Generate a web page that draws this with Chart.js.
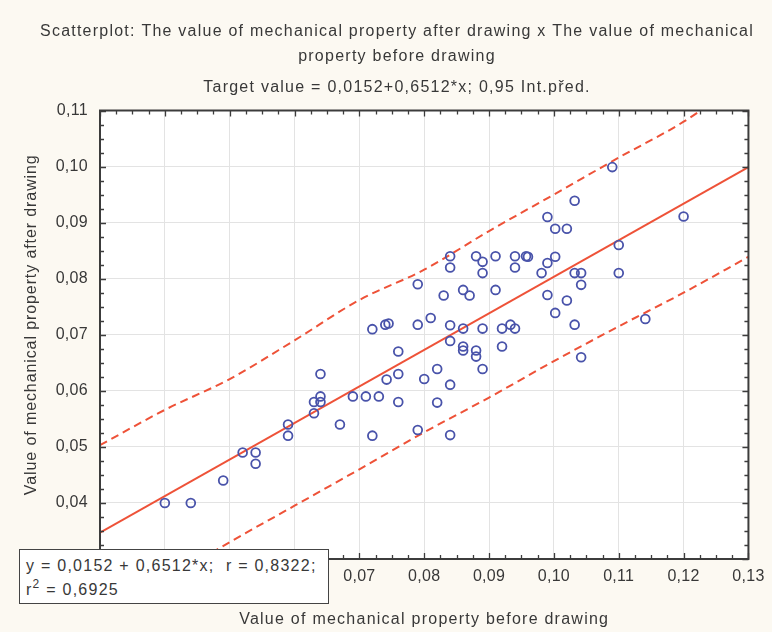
<!DOCTYPE html>
<html>
<head>
<meta charset="utf-8">
<script src="https://cdn.jsdelivr.net/npm/chart.js@4/dist/chart.umd.min.js"></script>
<style>
  html, body { margin: 0; padding: 0; background: #FCF9F2; }
  #wrap { position: relative; width: 772px; height: 632px; overflow: hidden; }
  #c { position: absolute; left: 0; top: 0; }
  #statBox {
    position: absolute; left: 19px; top: 549px; width: 302px; height: 53px;
    border: 1.5px solid #444; background: #fff; color: #383838;
    box-sizing: content-box; padding: 0 0 0 6px; white-space: pre;
  }
  #statBox div { height: 24px; line-height: 24px; }
  #statBox sup { font-size: 12px; line-height: 0; vertical-align: 7px; }
</style>
</head>
<body>
<div id="wrap">
  <canvas id="c" width="772" height="632"></canvas>
  <div id="statBox"><div style="margin-top:4px">y = 0,0152 + 0,6512*x;  r = 0,8322;</div><div>r<sup>2</sup> = 0,6925</div></div>
</div>
<script>
// ---------------- data ----------------
const beforeDrawing = [0.040,0.044,0.049,0.052,0.054,0.054,0.059,0.059,0.063,0.063,0.064,0.064,0.064,0.067,0.069,0.071,0.073,0.072,0.0742,0.076,0.076,0.076,0.072,0.0740,0.0745,0.079,0.079,0.079,0.081,0.084,0.084,0.083,0.086,0.087,0.088,0.089,0.089,0.091,0.091,0.094,0.094,0.0957,0.084,0.086,0.084,0.086,0.086,0.088,0.088,0.089,0.089,0.092,0.0933,0.094,0.092,0.082,0.080,0.084,0.082,0.084,0.109,0.1032,0.099,0.1002,0.102,0.096,0.099,0.1002,0.0981,0.1032,0.1042,0.1042,0.110,0.110,0.099,0.102,0.1002,0.1032,0.1042,0.120,0.1141];
const afterDrawing = [0.040,0.040,0.044,0.049,0.049,0.047,0.054,0.052,0.056,0.058,0.059,0.058,0.063,0.054,0.059,0.059,0.059,0.052,0.062,0.058,0.063,0.067,0.071,0.0718,0.0720,0.079,0.0718,0.053,0.073,0.084,0.082,0.077,0.078,0.077,0.084,0.083,0.081,0.084,0.078,0.084,0.082,0.084,0.0717,0.0711,0.0689,0.0679,0.0672,0.0672,0.0661,0.0711,0.0639,0.0711,0.0718,0.0711,0.0679,0.0639,0.0621,0.0611,0.0579,0.0521,0.0999,0.0939,0.091,0.0889,0.0889,0.0839,0.0828,0.0839,0.081,0.081,0.081,0.0789,0.086,0.081,0.0771,0.0761,0.0739,0.0718,0.066,0.0911,0.0728];

// regression line y = 0.0152 + 0.6512*x, at the axis ends
const fitX = [0.03, 0.13];
const fitY = [0.0347, 0.0999];

// 0.95 prediction band
const bandX     = [0.03, 0.04, 0.05, 0.06, 0.07, 0.08, 0.09, 0.10, 0.11, 0.12, 0.13];
const bandUpper = [0.0503, 0.0566, 0.0621, 0.0690, 0.0762, 0.0816, 0.0885, 0.0950, 0.1016, 0.1080, 0.1160];
const bandLower = [0.0191, 0.0261, 0.0330, 0.0395, 0.0460, 0.0526, 0.0588, 0.0653, 0.0715, 0.0775, 0.0839];

const xTicks = [0.03, 0.04, 0.05, 0.06, 0.07, 0.08, 0.09, 0.10, 0.11, 0.12, 0.13];
const xTickLabels = ['0,03','0,04','0,05','0,06','0,07','0,08','0,09','0,10','0,11','0,12','0,13'];
const yTicks = [0.03, 0.04, 0.05, 0.06, 0.07, 0.08, 0.09, 0.10, 0.11];
const yTickLabels = ['0,03','0,04','0,05','0,06','0,07','0,08','0,09','0,10','0,11'];

const titleLines = ['Scatterplot: The value of mechanical property after drawing x The value of mechanical', 'property before drawing'];
const subtitleText = 'Target value = 0,0152+0,6512*x; 0,95 Int.před.';
const xTitle = 'Value of mechanical property before drawing';
const yTitle = 'Value of mechanical property after drawing';

// ---------------- fonts ----------------
const FAMILY = '"Liberation Sans", Arial, sans-serif';
const FS = 16;
const LS_TICK = '0.3px';
const LS_TEXT = '1.25px';
const LS_YTITLE = '0.9px';
const TXT = '#383838';
const box = document.getElementById('statBox');
box.style.fontFamily = FAMILY; box.style.fontSize = FS + 'px'; box.style.letterSpacing = LS_TEXT;

const RED = '#EE5238';
const BLUE = '#4953AA';

const framePlugin = {
  id: 'frame',
  afterLayout(chart) {
    const scales = Object.values(chart.scales);
    chart.boxes.forEach(b => {
      if (b.__lsPatched) return;
      b.__lsPatched = true;
      if (scales.includes(b)) {
        const origTitle = b.drawTitle;
        const isY = b.axis === 'y';
        b.drawTitle = function () {
          const ctx = chart.ctx;
          ctx.save();
          ctx.letterSpacing = isY ? LS_YTITLE : LS_TEXT;
          if (isY) ctx.translate(0, -10);
          origTitle.apply(this, arguments);
          ctx.restore();
          ctx.letterSpacing = LS_TICK;
        };
      } else {
        const origDraw = b.draw;
        b.draw = function () {
          chart.ctx.letterSpacing = LS_TEXT;
          origDraw.apply(this, arguments);
          chart.ctx.letterSpacing = LS_TICK;
        };
      }
    });
  },
  beforeDraw(chart) {
    const { ctx, chartArea: a } = chart;
    ctx.letterSpacing = LS_TICK;
    ctx.save();
    ctx.fillStyle = '#ffffff';
    ctx.fillRect(a.left, a.top, a.right - a.left, a.bottom - a.top);
    ctx.restore();
  },
  afterDraw(chart) {
    const { ctx, chartArea: a, scales: { x, y } } = chart;
    ctx.save();
    ctx.strokeStyle = '#3c3c3c';
    ctx.lineWidth = 1.3;
    ctx.beginPath();
    const nx = Math.round((x.max - x.min) / 0.0025);
    for (let i = 0; i <= nx; i++) {
      const v = x.min + i * 0.0025;
      const px = Math.round(x.getPixelForValue(v)) + 0.5;
      const len = (i % 4 === 0) ? 6 : 4;
      ctx.moveTo(px, a.bottom); ctx.lineTo(px, a.bottom - len);
      ctx.moveTo(px, a.top); ctx.lineTo(px, a.top + len);
    }
    const ny = Math.round((y.max - y.min) / 0.0025);
    for (let i = 0; i <= ny; i++) {
      const v = y.min + i * 0.0025;
      const py = Math.round(y.getPixelForValue(v)) + 0.5;
      const len = (i % 4 === 0) ? 6 : 4;
      ctx.moveTo(a.left, py); ctx.lineTo(a.left + len, py);
      ctx.moveTo(a.right, py); ctx.lineTo(a.right - len, py);
    }
    ctx.stroke();
    ctx.lineWidth = 2;
    ctx.strokeRect(a.left, a.top, a.right - a.left, a.bottom - a.top);
    ctx.restore();
  }
};

const toPts = (xs, ys) => xs.map((v, i) => ({ x: v, y: ys[i] }));

const chart = new Chart(document.getElementById('c'), {
  type: 'scatter',
  data: {
    datasets: [
      {
        label: 'observations',
        data: toPts(beforeDrawing, afterDrawing),
        pointStyle: 'circle', pointRadius: 4.4, pointBorderWidth: 1.8,
        pointBackgroundColor: 'rgba(0,0,0,0)', pointBorderColor: BLUE,
        showLine: false, order: 0
      },
      {
        label: 'fit',
        data: toPts(fitX, fitY),
        showLine: true, borderColor: RED, borderWidth: 2, pointRadius: 0, order: 1
      },
      {
        label: 'upper',
        data: toPts(bandX, bandUpper),
        showLine: true, borderColor: RED, borderWidth: 2, borderDash: [8, 5], pointRadius: 0,
        cubicInterpolationMode: 'monotone', order: 1
      },
      {
        label: 'lower',
        data: toPts(bandX, bandLower),
        showLine: true, borderColor: RED, borderWidth: 2, borderDash: [8, 5], pointRadius: 0,
        cubicInterpolationMode: 'monotone', order: 1
      }
    ]
  },
  options: {
    responsive: false, animation: false, devicePixelRatio: 1,
    layout: { padding: { left: 40, right: 18, top: 0, bottom: 0 } },
    plugins: {
      legend: { display: false },
      tooltip: { enabled: false },
      title: {
        display: true, text: titleLines, color: TXT,
        font: { family: FAMILY, size: FS, weight: 'normal', lineHeight: '25px' },
        padding: { top: 19.5, bottom: 5.5 }
      },
      subtitle: {
        display: true, text: subtitleText, color: TXT,
        font: { family: FAMILY, size: FS, weight: 'normal', lineHeight: '25px' },
        padding: { top: 0, bottom: 10.5 }
      }
    },
    scales: {
      x: {
        type: 'linear', position: 'bottom', min: 0.03, max: 0.13,
        afterBuildTicks: s => { s.ticks = xTicks.map(v => ({ value: v })); },
        afterFit: s => { s.height = 73; },
        grid: { color: '#E3E3E3', lineWidth: 1, drawTicks: false },
        border: { display: false },
        ticks: { color: TXT, padding: 8, maxRotation: 0, autoSkip: false,
          font: { family: FAMILY, size: FS },
          callback: (v, i) => xTickLabels[i] },
        title: { display: true, text: xTitle, color: TXT,
          font: { family: FAMILY, size: FS }, padding: { top: 0, bottom: 3 } }
      },
      y: {
        type: 'linear', position: 'left', min: 0.03, max: 0.11,
        afterBuildTicks: s => { s.ticks = yTicks.map(v => ({ value: v })); },
        afterFit: s => { s.width = 60; },
        grid: { color: '#E3E3E3', lineWidth: 1, drawTicks: false },
        border: { display: false },
        ticks: { color: TXT, padding: 12, autoSkip: false,
          font: { family: FAMILY, size: FS },
          callback: (v, i) => yTickLabels[i] },
        title: { display: true, text: yTitle, color: TXT,
          font: { family: FAMILY, size: FS }, padding: { top: -18.4, bottom: 0 } }
      }
    }
  },
  plugins: [framePlugin]
});
chart.update();
</script>
</body>
</html>
